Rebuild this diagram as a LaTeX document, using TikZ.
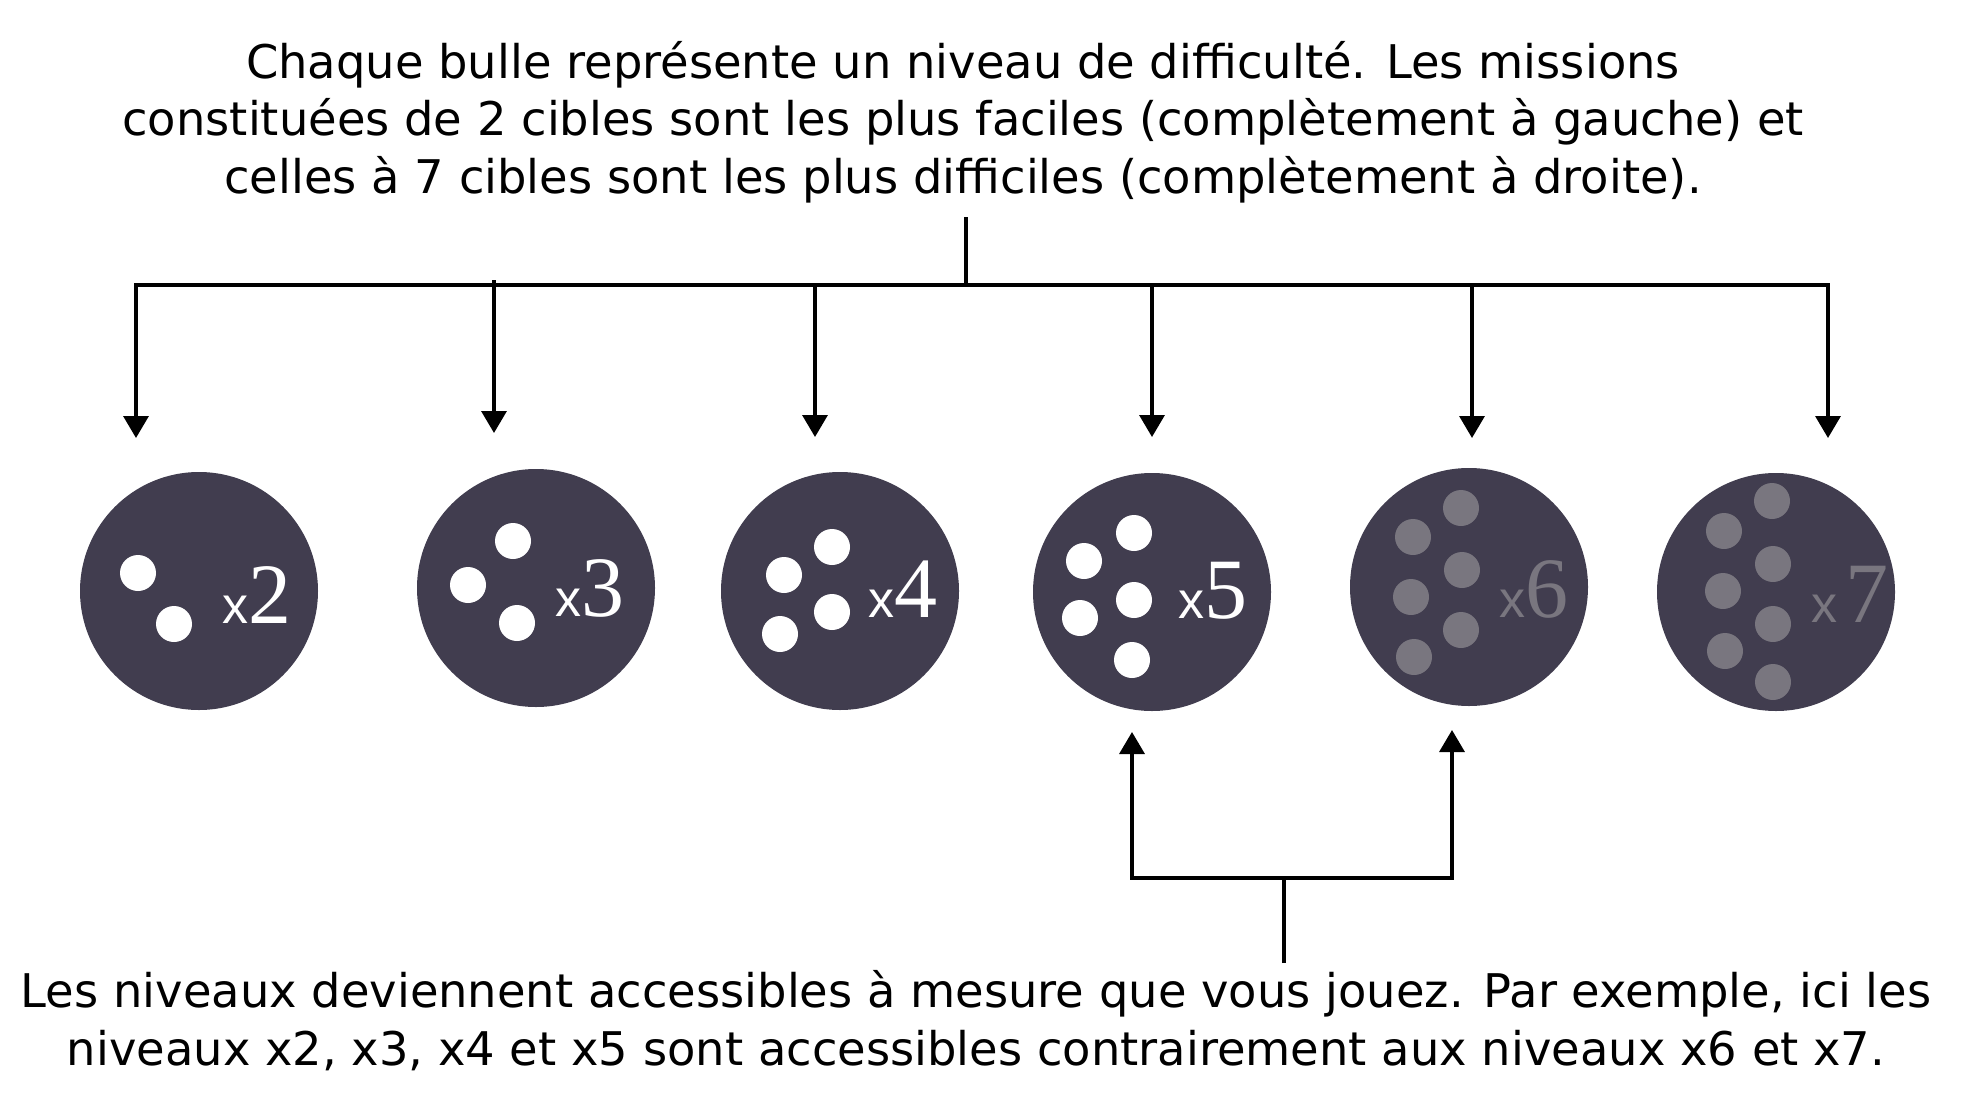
\documentclass[tikz,border=0pt]{standalone}
\usepackage{fontspec}
\setmainfont{DejaVu Sans}
\newfontfamily\xfont{Liberation Sans}
\newfontfamily\dfont{Liberation Serif}
\usetikzlibrary{arrows.meta}
\definecolor{bubble}{HTML}{413D4F}
\definecolor{dotgray}{HTML}{79767F}
\tikzset{
  bub/.style={circle, fill=bubble, minimum size=238pt, inner sep=0pt},
  wdot/.style={fill=white},
  gdot/.style={fill=dotgray},
  conn/.style={line width=3.4pt, black},
  arr/.style={conn, -{Triangle[width=25pt,length=22pt]}},
  lvl/.style={anchor=base west, inner sep=0pt, text=white},
  lvlg/.style={lvl, text=dotgray},
  caption/.style={align=center, inner sep=0pt, font=\fontsize{46.4}{57.5}\selectfont}
}
\newcommand{\lvltxt}[1]{{\xfont\fontsize{52}{52}\selectfont x}{\dfont\fontsize{86}{86}\selectfont #1}}
\begin{document}
\begin{tikzpicture}[x=1pt,y=-1pt]
\useasboundingbox (0,0) rectangle (1963,1111);
% top caption
\node[caption, anchor=base] (top) at (963,193) {Chaque bulle représente un niveau de difficulté. Les missions\\constituées de 2 cibles sont les plus faciles (complètement à gauche) et\\celles à 7 cibles sont les plus difficiles (complètement à droite).};
% bubbles
\node[bub] (b2) at (199,591) {};
\node[bub] (b3) at (536,588) {};
\node[bub] (b4) at (840,591) {};
\node[bub] (b5) at (1152,592) {};
\node[bub] (b6) at (1469,587) {};
\node[bub] (b7) at (1776,592) {};
% dots
\foreach \p in {(138,573),(174,624)} \fill[wdot] \p circle (18);
\foreach \p in {(513,541),(468,585),(517,623)} \fill[wdot] \p circle (18);
\foreach \p in {(832,547),(784,575),(832,612),(780,634)} \fill[wdot] \p circle (18);
\foreach \p in {(1134,533),(1084,561),(1134,600),(1080,618),(1132,660)} \fill[wdot] \p circle (18);
\foreach \p in {(1461,508),(1413,537),(1462,570),(1411,597),(1461,630),(1414,657)} \fill[gdot] \p circle (18);
\foreach \p in {(1772,501),(1724,531),(1773,564),(1723,591),(1773,624),(1725,651),(1773,682)} \fill[gdot] \p circle (18);
% labels
\node[lvl] (l2) at (222,623) {\lvltxt{2}};
\node[lvl] (l3) at (555,616) {\lvltxt{3}};
\node[lvl] (l4) at (868,617) {\lvltxt{4}};
\node[lvl] (l5) at (1178,618) {\lvltxt{5}};
\node[lvlg] (l6) at (1499,617) {\lvltxt{6}};
\node[lvlg] (l7) at (1811,622) {{\xfont\fontsize{52}{52}\selectfont x\,}{\dfont\fontsize{86}{86}\selectfont 7}};
% top connectors
\coordinate (t0) at (966,217);
\coordinate (tj) at (966,285);
\coordinate (tl) at (136,285);
\coordinate (tr) at (1828,285);
\draw[conn] (t0) -- (tj);
\draw[conn, line cap=rect] (tl) -- (tr);
\coordinate (a2) at (136,438);
\coordinate (a3) at (494,433);
\coordinate (a4) at (815,437);
\coordinate (a5) at (1152,437);
\coordinate (a6) at (1472,438);
\coordinate (a7) at (1828,438);
\draw[arr] (tl) -- (a2);
\draw[arr] (494,280) -- (a3);
\draw[arr] (815,285) -- (a4);
\draw[arr] (1152,285) -- (a5);
\draw[arr] (1472,285) -- (a6);
\draw[arr] (tr) -- (a7);
% bottom connectors
\coordinate (s0) at (1284,963);
\coordinate (sj) at (1284,878);
\coordinate (sl) at (1132,878);
\coordinate (sr) at (1452,878);
\coordinate (u5) at (1132,732);
\coordinate (u6) at (1452,730);
\draw[conn] (s0) -- (sj);
\draw[conn, line cap=rect] (sl) -- (sr);
\draw[arr] (sl) -- (u5);
\draw[arr] (sr) -- (u6);
% bottom caption
\node[caption, anchor=base] (bot) at (976,1065) {Les niveaux deviennent accessibles à mesure que vous jouez. Par exemple, ici les\\niveaux x2, x3, x4 et x5 sont accessibles contrairement aux niveaux x6 et x7.};
\end{tikzpicture}
\end{document}
